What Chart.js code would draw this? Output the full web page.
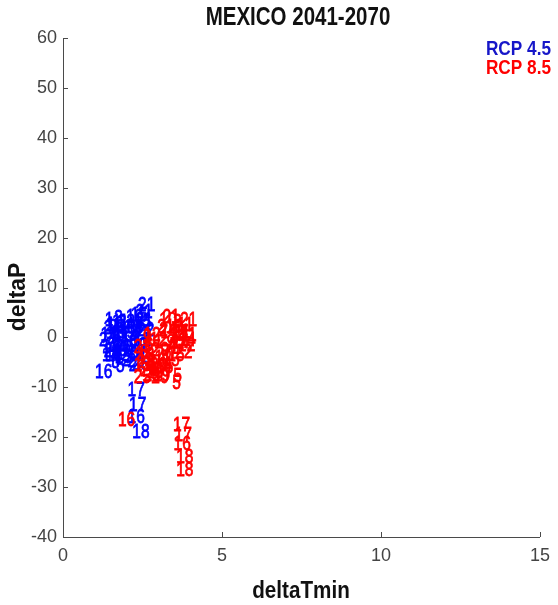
<!DOCTYPE html>
<html>
<head>
<meta charset="utf-8">
<script src="https://cdn.jsdelivr.net/npm/chart.js@4.4.1/dist/chart.umd.min.js"></script>
<style>
  html, body { margin: 0; padding: 0; background: #fff; }
  #wrap { width: 558px; height: 605px; }
</style>
</head>
<body>
<div id="wrap"><canvas id="my-chart" width="558" height="605"></canvas></div>
<script>
// model numbers with their (deltaTmin, deltaP) for each scenario
const rcp45Labels = [
  '1','2','3','4','5','6','7','8','9','10','11','12','13','14','15','19','20','21','22','23','24','25',
  '1','2','3','4','5','6','7','8','9','10','11','12','13','14','15','19','20','21','22','23','24','25',
  '1','3','7','10','11','14','20','21','24',
  '16','17','17','16','18'
];
const rcp45Tmin = [
  1.5, 2.2, 1.7, 1.9, 1.8, 2.0, 1.6, 2.3, 1.7, 2.1, 1.6, 2.4, 1.9, 1.5, 2.5, 2.2, 1.8, 2.63, 2.5, 2.0, 1.4, 2.45,
  1.7, 2.0, 1.9, 2.1, 1.65, 2.2, 1.5, 2.4, 1.9, 2.3, 1.8, 2.5, 1.6, 1.45, 2.4, 2.0, 2.1, 2.55, 2.6, 1.7, 1.55, 2.3,
  1.45, 1.75, 1.6, 2.25, 1.85, 1.5, 2.35, 2.55, 1.55,
  1.28, 2.3, 2.35, 2.3, 2.45
];
const rcp45P = [
  2.5, -5.5, -1.0, 1.5, -5.8, -2.0, 0.5, 1.0, -3.0, -0.5, 2.5, -1.5, -4.0, -2.0, 3.0, 2.0, -1.5, 6.5, 0.5, 3.0, -0.5, -5.3,
  1.0, -4.5, 0.0, 2.5, -5.0, -1.0, -1.5, 2.0, -2.5, -3.0, 3.0, -0.5, -3.5, 0.5, 4.5, 1.0, -3.5, 5.0, 1.5, 2.0, -2.8, -4.8,
  3.5, 3.8, -4.2, 4.0, 0.5, -3.6, -1.8, 3.5, 1.8,
  -7.0, -10.6, -13.5, -16.0, -19.0
];

const rcp85Labels = [
  '1','2','3','4','5','6','7','8','9','10','11','12','13','14','15','19','20','21','22','23','24','25',
  '1','2','3','4','5','6','7','8','9','10','11','12','13','14','15','19','20','21','22','23','24','25',
  '2','4','9','11','12','13','15','21','23',
  '16','17','17','16','18','18'
];
const rcp85Tmin = [
  3.2, 2.9, 3.5, 3.1, 3.57, 2.7, 3.3, 2.8, 3.4, 3.5, 3.85, 3.0, 2.6, 3.7, 3.2, 2.9, 3.05, 3.7, 3.89, 2.5, 3.3, 2.5,
  3.0, 2.7, 3.6, 3.3, 3.6, 2.55, 3.5, 2.9, 3.2, 3.3, 3.75, 2.8, 2.5, 3.9, 3.4, 3.1, 3.0, 3.95, 3.8, 2.7, 3.6, 2.8,
  3.1, 3.45, 2.65, 3.95, 3.15, 2.95, 3.55, 3.4, 2.6,
  2.0, 3.73, 3.78, 3.75, 3.83, 3.83
];
const rcp85P = [
  1.0, -2.5, 0.5, -4.0, -9.2, -1.5, -3.0, -5.0, -1.0, 2.0, 2.5, -0.5, -3.5, -1.0, -6.0, -7.0, -8.0, 1.0, -1.5, -2.0, 1.5, -8.0,
  -1.0, -4.5, 3.0, -5.5, -7.8, -3.0, -2.0, -6.5, -2.5, 3.5, 1.0, 0.5, -5.5, -0.5, -4.5, -7.5, -5.5, 3.5, -3.0, -6.5, 0.0, -7.6,
  2.0, -1.5, 0.0, 0.5, -4.2, -6.0, -3.5, 4.0, -5.0,
  -16.6, -17.6, -19.5, -21.5, -24.0, -26.6
];

const xTicks = [0, 5, 10, 15];
const yTicks = [-40, -30, -20, -10, 0, 10, 20, 30, 40, 50, 60];

const BLUE = '#0000ff';
const RED = '#ff0000';
const AXIS = '#4a4a4a';
const FONT = "'Liberation Sans', Arial, sans-serif";

function toPoints(xs, ys) {
  return xs.map((x, i) => ({ x: x, y: ys[i] }));
}

// text squeezed horizontally by sx, optionally outlined to thicken it
function squeezed(ctx, str, x, y, sx, outline) {
  ctx.save();
  ctx.translate(x, y);
  ctx.scale(sx, 1);
  ctx.fillText(str, 0, 0);
  if (outline) ctx.strokeText(str, 0, 0);
  ctx.restore();
}

// numbers drawn in place of markers, legend text, tick marks and titles
const textMarks = {
  id: 'textMarks',
  afterDatasetsDraw(chart) {
    const ctx = chart.ctx;
    const xs = chart.scales.x, ys = chart.scales.y;
    ctx.save();
    ctx.font = '21px ' + FONT;
    ctx.textAlign = 'center';
    ctx.textBaseline = 'middle';
    ctx.lineWidth = 0.8;
    chart.data.datasets.forEach((ds, di) => {
      const meta = chart.getDatasetMeta(di);
      ctx.fillStyle = ds.borderColor;
      ctx.strokeStyle = ds.borderColor;
      meta.data.forEach((pt, i) => {
        squeezed(ctx, ds.labels[i], pt.x, pt.y, 0.74, true);
      });
    });

    // legend text inside the axes
    ctx.font = 'bold 21px ' + FONT;
    ctx.textAlign = 'left';
    ctx.fillStyle = '#1616c8';
    squeezed(ctx, 'RCP 4.5', xs.getPixelForValue(13.3), ys.getPixelForValue(57.8), 0.82);
    ctx.fillStyle = RED;
    squeezed(ctx, 'RCP 8.5', xs.getPixelForValue(13.3), ys.getPixelForValue(53.9), 0.82);

    // inward tick marks
    ctx.strokeStyle = AXIS;
    ctx.lineWidth = 1;
    ctx.beginPath();
    xTicks.forEach(v => {
      const px = Math.round(xs.getPixelForValue(v)) + 0.5;
      ctx.moveTo(px, ys.bottom);
      ctx.lineTo(px, ys.bottom - 5);
    });
    yTicks.forEach(v => {
      const py = Math.round(ys.getPixelForValue(v)) + 0.5;
      ctx.moveTo(xs.left, py);
      ctx.lineTo(xs.left + 5, py);
    });
    ctx.stroke();

    // title and axis labels
    ctx.fillStyle = '#111';
    ctx.textAlign = 'center';
    ctx.font = 'bold 25px ' + FONT;
    squeezed(ctx, 'MEXICO 2041-2070', 298, 18, 0.82);
    ctx.font = 'bold 24px ' + FONT;
    squeezed(ctx, 'deltaTmin', 301, 591, 0.86);
    ctx.translate(18, 297);
    ctx.rotate(-Math.PI / 2);
    squeezed(ctx, 'deltaP', 0, 0, 0.95);
    ctx.restore();
  }
};

const ctx = document.getElementById('my-chart').getContext('2d');
const chart = new Chart(ctx, {
  type: 'scatter',
  data: {
    datasets: [
      {
        label: 'RCP 4.5',
        labels: rcp45Labels,
        borderColor: BLUE,
        backgroundColor: BLUE,
        pointRadius: 0,
        data: toPoints(rcp45Tmin, rcp45P)
      },
      {
        label: 'RCP 8.5',
        labels: rcp85Labels,
        borderColor: RED,
        backgroundColor: RED,
        pointRadius: 0,
        data: toPoints(rcp85Tmin, rcp85P)
      }
    ]
  },
  options: {
    responsive: false,
    animation: false,
    events: [],
    layout: { padding: { top: 38, right: 18, left: 0, bottom: 0 } },
    plugins: {
      legend: { display: false },
      tooltip: { enabled: false }
    },
    scales: {
      x: {
        type: 'linear',
        min: 0,
        max: 15,
        afterBuildTicks: s => { s.ticks = xTicks.map(v => ({ value: v })); },
        afterFit: s => { s.height = 68; },
        grid: { display: false, drawTicks: false },
        border: { display: true, color: AXIS, width: 1 },
        ticks: { color: '#444', font: { family: FONT, size: 18 }, padding: 8 }
      },
      y: {
        type: 'linear',
        min: -40,
        max: 60,
        afterBuildTicks: s => { s.ticks = yTicks.map(v => ({ value: v })); },
        afterFit: s => { s.width = 63; },
        grid: { display: false, drawTicks: false },
        border: { display: true, color: AXIS, width: 1 },
        ticks: { color: '#444', font: { family: FONT, size: 18 }, padding: 6 }
      }
    }
  },
  plugins: [textMarks]
});
</script>
</body>
</html>
